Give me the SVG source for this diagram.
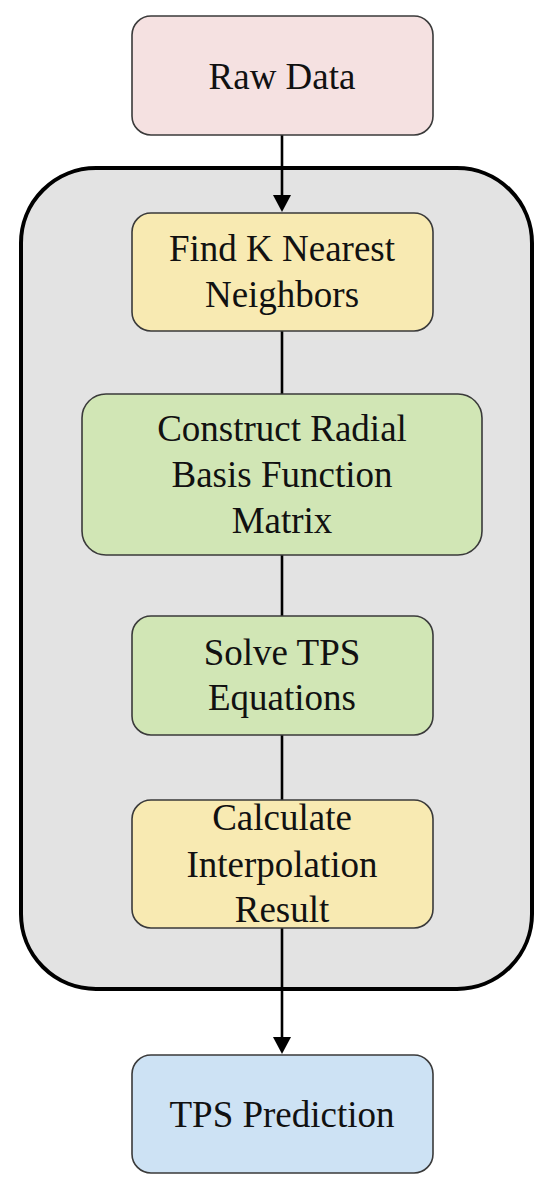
<svg xmlns="http://www.w3.org/2000/svg" width="550" height="1194" viewBox="0 0 550 1194">
  <style>
    .box { stroke: #3a3a3a; stroke-width: 1.6; }
    .lbl { font-family: "Liberation Serif", "Times New Roman", serif; font-size: 37px; fill: #111111; text-anchor: middle; }
    .conn { stroke: #000; stroke-width: 2.6; fill: none; }
    .head { fill: #000; }
  </style>
  <rect width="550" height="1194" fill="#ffffff"/>
  <g id="container">
    <rect x="21" y="168" width="511" height="821" rx="75" ry="75" fill="#e3e3e3" stroke="#000" stroke-width="4"/>
  </g>
  <g id="connectors">
    <line class="conn" x1="282" y1="135" x2="282" y2="195"/>
    <path class="head" d="M273,195 L291,195 L282,212 Z"/>
    <line class="conn" x1="282" y1="331" x2="282" y2="394"/>
    <line class="conn" x1="282" y1="555" x2="282" y2="616"/>
    <line class="conn" x1="282" y1="735" x2="282" y2="800"/>
    <line class="conn" x1="282" y1="928" x2="282" y2="1037"/>
    <path class="head" d="M273,1037 L291,1037 L282,1054 Z"/>
  </g>
  <g id="raw-data">
    <rect class="box" x="132" y="16" width="301" height="119" rx="19" fill="#f5e1e1"/>
    <text class="lbl" x="282" y="89">Raw Data</text>
  </g>
  <g id="find-knn">
    <rect class="box" x="132" y="213" width="301" height="118" rx="19" fill="#f8eab2"/>
    <text class="lbl" x="282" y="261">Find K Nearest</text>
    <text class="lbl" x="282" y="307">Neighbors</text>
  </g>
  <g id="construct-rbf">
    <rect class="box" x="82" y="394" width="400" height="161" rx="24" fill="#d1e6b5"/>
    <text class="lbl" x="282" y="441">Construct Radial</text>
    <text class="lbl" x="282" y="487">Basis Function</text>
    <text class="lbl" x="282" y="533">Matrix</text>
  </g>
  <g id="solve-tps">
    <rect class="box" x="132" y="616" width="301" height="119" rx="19" fill="#d1e6b5"/>
    <text class="lbl" x="282" y="665">Solve TPS</text>
    <text class="lbl" x="282" y="710">Equations</text>
  </g>
  <g id="calc-interp">
    <rect class="box" x="132" y="800" width="301" height="128" rx="19" fill="#f8eab2"/>
    <text class="lbl" x="282" y="830">Calculate</text>
    <text class="lbl" x="282" y="877">Interpolation</text>
    <text class="lbl" x="282" y="922">Result</text>
  </g>
  <g id="tps-prediction">
    <rect class="box" x="132" y="1055" width="301" height="118" rx="19" fill="#cde2f4"/>
    <text class="lbl" x="282" y="1127">TPS Prediction</text>
  </g>
</svg>
